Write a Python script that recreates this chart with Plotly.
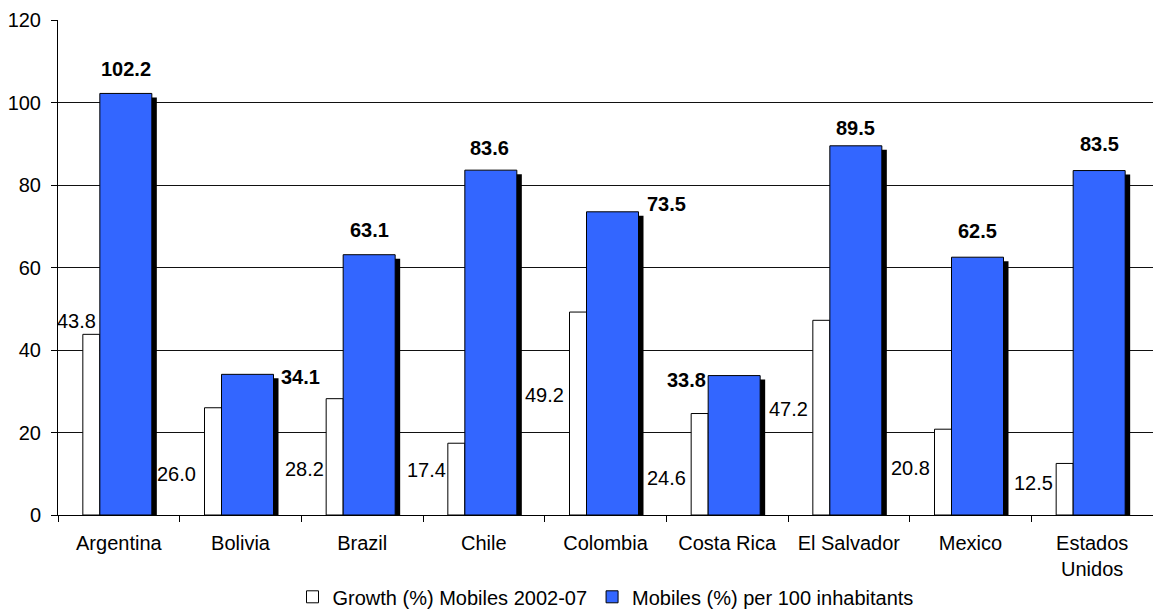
import plotly.graph_objects as go

categories = ["Argentina", "Bolivia", "Brazil", "Chile", "Colombia",
              "Costa Rica", "El Salvador", "Mexico", "Estados<br>Unidos"]
growth = [43.8, 26.0, 28.2, 17.4, 49.2, 24.6, 47.2, 20.8, 12.5]
mobiles = [102.2, 34.1, 63.1, 83.6, 73.5, 33.8, 89.5, 62.5, 83.5]
y_ticks = [0, 20, 40, 60, 80, 100, 120]

growth_name = "Growth (%) Mobiles 2002-07"
mobiles_name = "Mobiles (%) per 100 inhabitants"

# label placement offsets (pixels, relative to category center / bar top)
growth_dx = [-42, -64, -58, -57, -61, -61, -60, -60, -59]
growth_dy = [13, -66, -70, -27, -83, -64, -89, -39, -20]
mobiles_dx = [7, 60, 7, 6, 61, -41, 7, 7, 7]
mobiles_dy = [24, -3, 25, 22, 8, -4, 18, 26, 27]

FONT = "Liberation Sans, Arial, sans-serif"
FS = 20
BLUE = "#3366FF"
CATW = 1095 / 9.0
YPX = 495 / 120.0

fig = go.Figure()
fig.add_trace(go.Bar(
    x=categories, y=growth, name=growth_name,
    offset=-36 / CATW, width=17 / CATW,
    marker=dict(color="white", line=dict(color="black", width=1)),
    hoverinfo="x+y",
))
fig.add_trace(go.Bar(
    x=categories, y=[v - 4 / YPX for v in mobiles], showlegend=False,
    offset=-14 / CATW, width=52 / CATW,
    marker=dict(color="black", line=dict(color="black", width=0)),
    hoverinfo="skip",
))
fig.add_trace(go.Bar(
    x=categories, y=mobiles, name=mobiles_name,
    offset=-19 / CATW, width=52 / CATW,
    marker=dict(color=BLUE, line=dict(color="black", width=1)),
    hoverinfo="x+y",
))

annotations = []
for i, c in enumerate(categories):
    annotations.append(dict(
        x=c, y=growth[i], xref="x", yref="y", text=f"{growth[i]:.1f}",
        showarrow=False, xshift=growth_dx[i], yshift=growth_dy[i],
        xanchor="center", yanchor="middle",
        font=dict(family=FONT, size=FS, color="black"),
    ))
    annotations.append(dict(
        x=c, y=mobiles[i], xref="x", yref="y", text=f"<b>{mobiles[i]:.1f}</b>",
        showarrow=False, xshift=mobiles_dx[i], yshift=mobiles_dy[i],
        xanchor="center", yanchor="middle",
        font=dict(family=FONT, size=FS, color="black"),
    ))

fig.update_layout(
    width=1153, height=614,
    margin=dict(l=58, r=0, t=20, b=99, autoexpand=False),
    paper_bgcolor="white", plot_bgcolor="white",
    barmode="overlay",
    font=dict(family=FONT, size=FS, color="black"),
    showlegend=True,
    legend=dict(
        orientation="h", x=0.5, xanchor="center",
        yref="container", y=0.028, yanchor="middle",
        font=dict(family=FONT, size=FS, color="black"),
        itemwidth=30, tracegroupgap=0,
    ),
    annotations=annotations,
    xaxis=dict(
        range=[-0.5, 8.5], showline=True, linecolor="black", linewidth=1,
        ticks="outside", ticklen=6, tickcolor="black",
        tickson="boundaries", showgrid=False, fixedrange=True,
        tickfont=dict(family=FONT, size=FS, color="black"),
        ticklabelstandoff=10, automargin=False,
    ),
    yaxis=dict(
        range=[0, 120], tickvals=y_ticks, showline=True, linecolor="black",
        linewidth=1, ticks="outside", ticklen=6, tickcolor="black",
        showgrid=True, gridcolor="#111111", gridwidth=1, zeroline=False,
        tickfont=dict(family=FONT, size=FS, color="black"),
        ticklabelstandoff=6, fixedrange=True, automargin=False,
    ),
)

fig.write_html("out.html")
